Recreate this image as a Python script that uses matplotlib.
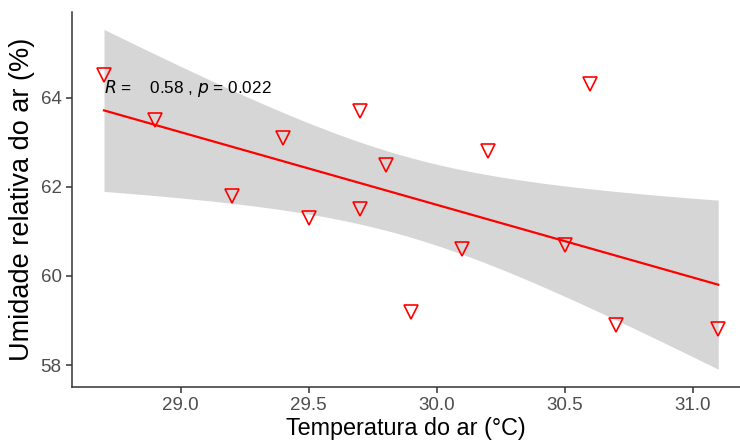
from matplotlib import pyplot as plt
import numpy as np

# temperatura do ar (C) x umidade relativa (%)
temperatura = [28.7, 28.9, 29.2, 29.4, 29.5, 29.7, 29.7, 29.8, 29.9, 30.1, 30.2, 30.5, 30.6, 30.7, 31.1]
umidade = [64.5, 63.5, 61.8, 63.1, 61.3, 63.7, 61.5, 62.5, 59.2, 60.6, 62.8, 60.7, 64.3, 58.9, 58.8]
x_ticks = [29.0, 29.5, 30.0, 30.5, 31.0]
y_ticks = [58, 60, 62, 64]
label_cor = '$\\it{R}$ =    0.58 , $\\it{p}$ = 0.022'

plt.rcParams['font.family'] = ['Liberation Sans', 'DejaVu Sans']

x = np.array(temperatura)
y = np.array(umidade)
n = len(x)

# regressao linear + intervalo de confianca 95%
b, a = np.polyfit(x, y, 1)
xs = np.linspace(x.min(), x.max(), 80)
ys = a + b * xs
res = y - (a + b * x)
s = np.sqrt(np.sum(res ** 2) / (n - 2))
t = 2.160  # t(0.975, 13)
se = s * np.sqrt(1.0 / n + (xs - x.mean()) ** 2 / np.sum((x - x.mean()) ** 2))

fig = plt.figure(figsize=(7.4, 4.43), dpi=100)
ax = fig.add_axes([0.0973, 0.1264, 0.9027, 0.8465])

ax.fill_between(xs, ys - t * se, ys + t * se, color='#999999', alpha=0.4, lw=0, zorder=2)
ax.plot(x, y, 'v', ms=9.5, mfc='none', mec='red', mew=1.2, zorder=3)
ax.plot(xs, ys, color='red', lw=1.6, zorder=4)

ax.text(28.7, 64.2, label_cor, fontsize=12.3, color='black', va='center', ha='left', zorder=5)

ax.set_xlim(28.575, 31.185)
ax.set_ylim(57.51, 65.92)
ax.set_xticks(x_ticks)
ax.set_xticklabels(['%.1f' % v for v in x_ticks])
ax.set_yticks(y_ticks)

# naming the axis
ax.set_xlabel('Temperatura do ar (°C)', fontsize=16.8, labelpad=2)
ax.set_ylabel('Umidade relativa do ar (%)', fontsize=19.5, labelpad=4)

ax.spines['top'].set_visible(False)
ax.spines['right'].set_visible(False)
for sp in ['left', 'bottom']:
    ax.spines[sp].set_color('#333333')
    ax.spines[sp].set_linewidth(1.1)
ax.tick_params(axis='both', length=4, width=1.1, color='#333333', labelcolor='#4D4D4D', labelsize=13.5)

plt.savefig('out.png', dpi=100)
